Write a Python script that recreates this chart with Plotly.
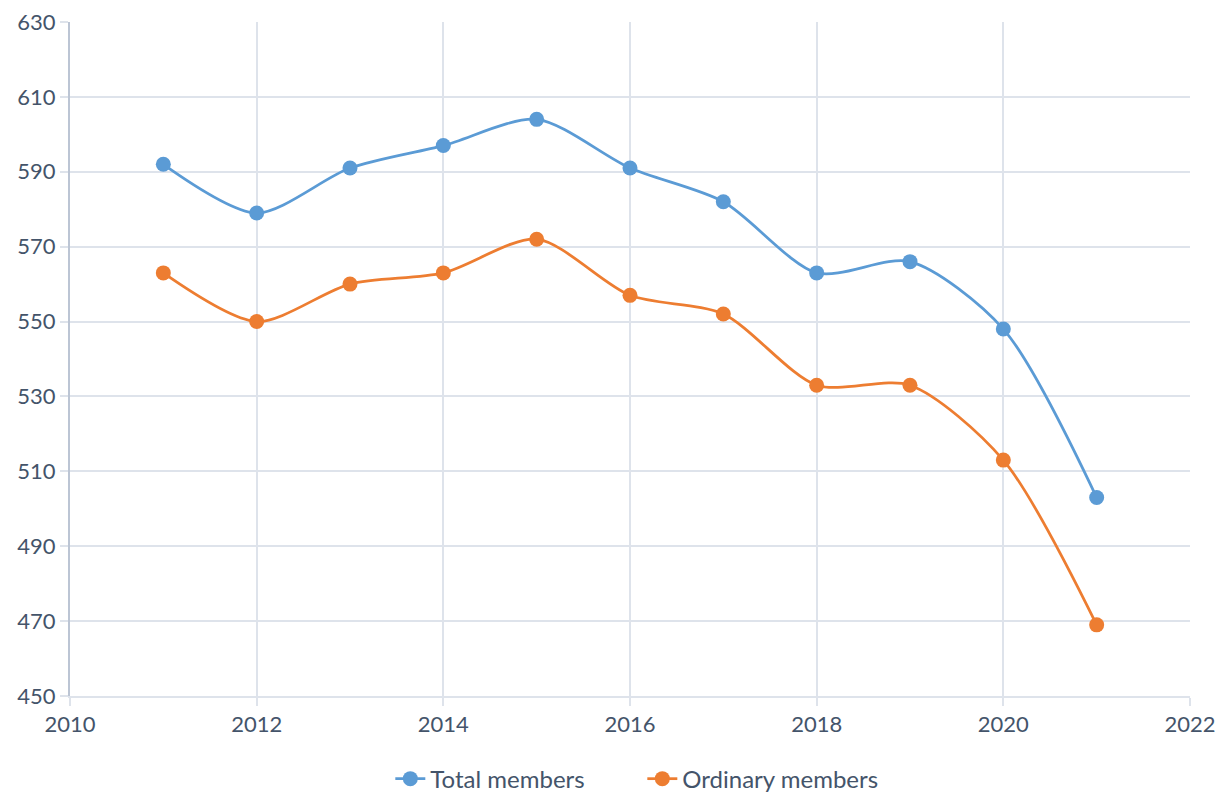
import plotly.graph_objects as go

years = [2011, 2012, 2013, 2014, 2015, 2016, 2017, 2018, 2019, 2020, 2021]
total_members = [592, 579, 591, 597, 604, 591, 582, 563, 566, 548, 503]
ordinary_members = [563, 550, 560, 563, 572, 557, 552, 533, 533, 513, 469]

BLUE = "#5B9BD5"
ORANGE = "#ED7D31"
TEXT = "#44546A"
GRID = "#DEE3EB"
AXIS = "#BCC5D4"

fig = go.Figure()
fig.add_trace(go.Scatter(
    x=years, y=total_members, name="Total members", mode="lines+markers",
    line=dict(color=BLUE, width=2.75, shape="spline", smoothing=0.8),
    marker=dict(color=BLUE, size=15),
))
fig.add_trace(go.Scatter(
    x=years, y=ordinary_members, name="Ordinary members", mode="lines+markers",
    line=dict(color=ORANGE, width=2.75, shape="spline", smoothing=0.8),
    marker=dict(color=ORANGE, size=15),
))

fig.update_layout(
    width=1217, height=786,
    margin=dict(l=62, r=35, t=14, b=98, autoexpand=False),
    paper_bgcolor="white", plot_bgcolor="white",
    font=dict(family="Lato, 'Open Sans', sans-serif", size=22, color=TEXT),
    showlegend=True,
    legend=dict(orientation="h", xref="paper", x=0.511, xanchor="center",
                yref="container", y=0.019, yanchor="middle",
                entrywidth=207, entrywidthmode="pixels",
                font=dict(size=24, color=TEXT)),
    xaxis=dict(range=[2010, 2022], dtick=2, tick0=2010, showgrid=True, gridcolor=GRID,
               gridwidth=2, zeroline=False, ticks="outside", ticklen=8, tickcolor=GRID,
               tickwidth=2, showline=True, linecolor=GRID, linewidth=2, automargin=False,
               ticklabeloverflow="allow"),
    yaxis=dict(range=[450, 630], dtick=20, tick0=450, showgrid=True, gridcolor=GRID,
               gridwidth=2, zeroline=False, ticks="outside", ticklen=8, tickcolor=GRID,
               tickwidth=2, showline=True, linecolor=AXIS, linewidth=2, automargin=False,
               ticklabeloverflow="allow"),
)

fig.write_html("out.html")
